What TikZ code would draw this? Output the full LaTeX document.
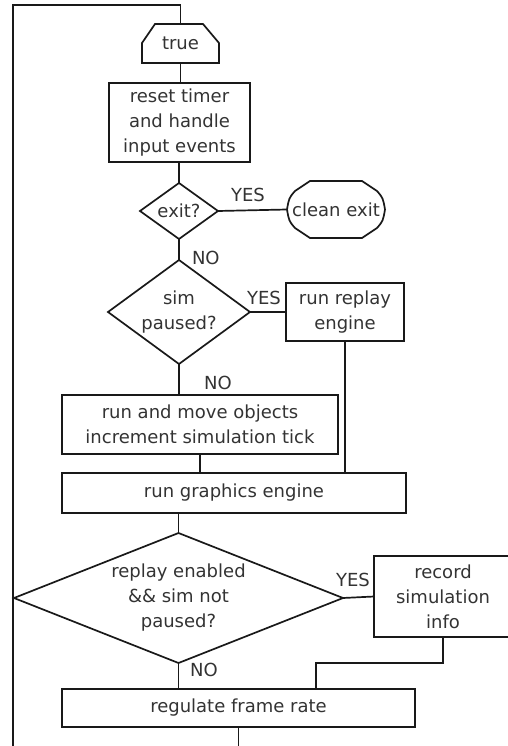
\documentclass[tikz,border=0pt]{standalone}
\usepackage{fontspec}
\setmainfont{DejaVu Sans}
\usetikzlibrary{calc}
\begin{document}
\begin{tikzpicture}[x=1pt,y=-1pt,
  every node/.style={font=\fontsize{18}{25}\selectfont, text=black!80, inner sep=0pt, outer sep=0pt, align=center},
  ln/.style={line width=1.7pt, draw=black!90},
  boxnode/.style={draw=black!90, line width=1.7pt, rectangle},
  shapenode/.style={rectangle},
  lbl/.style={font=\fontsize{18}{25}\selectfont}
]
\useasboundingbox (0,0) rectangle (508,746);
\clip (0,0) rectangle (508,746);

% nodes
\node[shapenode, minimum width=77, minimum height=39] (true) at (180.5,43.5) {true};
\node[boxnode, minimum width=141, minimum height=79] (reset) at (179.5,122.5) {reset timer\\and handle\\input events};
\node[shapenode, minimum width=78, minimum height=56] (exitq) at (179,211) {exit?};
\node[shapenode, minimum width=98, minimum height=57] (cleanexit) at (336,209.5) {clean exit};
\node[shapenode, minimum width=142, minimum height=104] (simq) at (179,312) {sim\\paused?};
\node[boxnode, minimum width=118, minimum height=58] (replay) at (345,312) {run replay\\engine};
\node[boxnode, minimum width=276, minimum height=59] (move) at (200,424.5) {run and move objects\\increment simulation tick};
\node[boxnode, minimum width=344, minimum height=40] (graphics) at (234,493) {run graphics engine};
\node[shapenode, minimum width=329, minimum height=130] (replayq) at (178.5,598) {replay enabled\\\&\& sim not\\paused?};
\node[boxnode, minimum width=138, minimum height=81] (record) at (443,596.5) {record\\simulation\\info};
\node[boxnode, minimum width=353, minimum height=38] (frame) at (238.5,708) {regulate frame rate};

% labels
\node[lbl] (yes1) at (248,195) {YES};
\node[lbl, anchor=west] (no1) at (192,258) {NO};
\node[lbl] (yes2) at (264,298) {YES};
\node[lbl] (no2) at (218,383) {NO};
\node[lbl] (yes3) at (353,580) {YES};
\node[lbl] (no3) at (204,670) {NO};

% special shapes
\draw[ln] (155,24) -- (203,24) -- (true.east |- 0,43) -- (true.south east) -- (true.south west) -- (true.west |- 0,43) -- cycle;
\draw[ln] (exitq.north) -- (exitq.east) -- (exitq.south) -- (exitq.west) -- cycle;
\draw[ln] (simq.north) -- (simq.east) -- (simq.south) -- (simq.west) -- cycle;
\draw[ln] (replayq.north) -- (replayq.east) -- (replayq.south) -- (replayq.west) -- cycle;
\draw[ln] (310,181) -- (362,181) -- (377,191) .. controls (383,198) .. (cleanexit.east)
  .. controls (383,221) .. (377,228) -- (362,238) -- (310,238) -- (295,228)
  .. controls (289,221) .. (cleanexit.west) .. controls (289,198) .. (295,191) -- cycle;

% coordinates
\coordinate (bl) at (13,760);
\coordinate (tl) at (13,5);
\coordinate (jn) at (316,663);

% connectors
\draw[ln] (frame.south) |- (bl) -- (tl) -| (true.north);
\draw[ln] (true.south) -- (true.south |- reset.north);
\draw[ln] (reset.south) -- (reset.south -| exitq.north) -- (exitq.north);
\draw[ln] (exitq.east) -- (cleanexit.west);
\draw[ln] (exitq.south) -- (simq.north);
\draw[ln] (simq.east) -- (replay.west);
\draw[ln] (simq.south) -- (simq.south |- move.north);
\draw[ln] (replay.south) -- (replay.south |- graphics.north);
\draw[ln] (move.south) -- (move.south |- graphics.north);
\draw[ln] (graphics.south -| replayq.north) -- (replayq.north);
\draw[ln] (replayq.east) -- (record.west);
\draw[ln] (replayq.south) -- (replayq.south |- frame.north);
\draw[ln] (record.south) |- (jn) -- (jn |- frame.north);
\end{tikzpicture}
\end{document}
